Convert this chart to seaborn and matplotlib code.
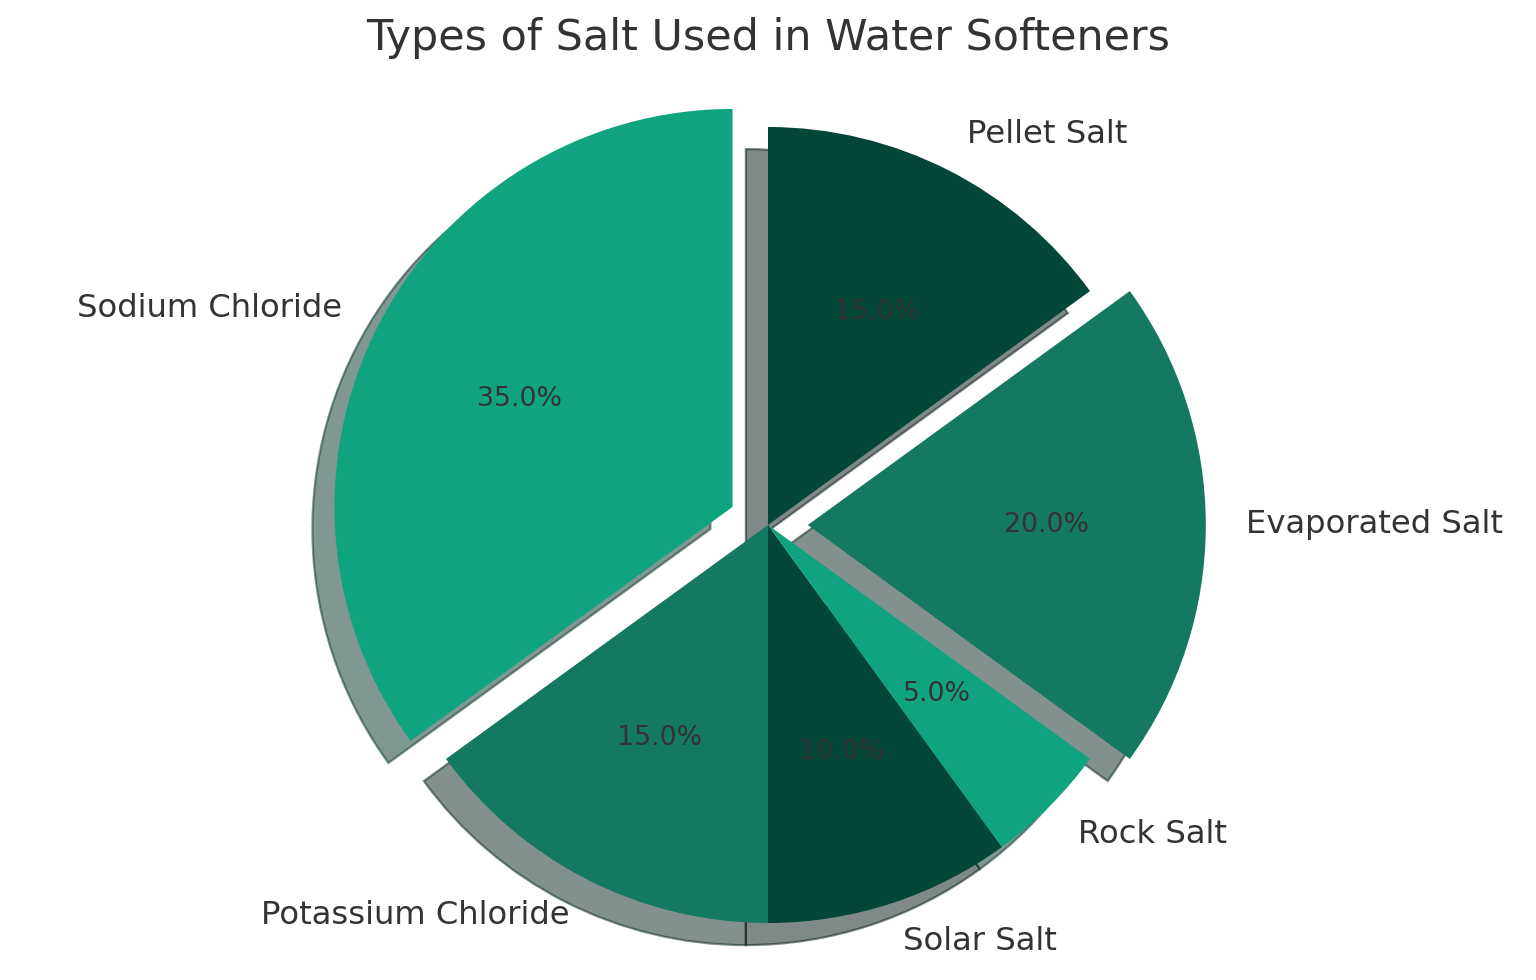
import numpy as np
import seaborn as sns
import matplotlib.pyplot as plt

sns.set_style("white")

# data
salt_types = ["Sodium Chloride", "Potassium Chloride", "Solar Salt",
              "Rock Salt", "Evaporated Salt", "Pellet Salt"]
shares = [35, 15, 10, 5, 20, 15]
explode = [0.1, 0, 0, 0, 0.1, 0]

palette = ["#10A37F", "#147960", "#024737"]
slice_colors = [palette[i % 3] for i in range(len(shares))]
text_color = "#333333"

fig = plt.figure(figsize=(7.68, 4.9), dpi=200)
ax = fig.add_axes([0, 0, 1, 1])

wedges, labels, pcts = ax.pie(shares, labels=salt_types, colors=slice_colors,
                              explode=explode, autopct="%1.1f%%", startangle=90,
                              shadow=True, pctdistance=0.6, labeldistance=1.1,
                              wedgeprops={"edgecolor": "none", "linewidth": 0.8},
                              textprops={"color": text_color, "fontsize": 11.6})
for t in pcts:
    t.set_fontsize(9.65)
    t.set_color(text_color)

# place the pie like the reference (radius ~398px, centre at 768,525)
r_px = 398
ax.set_xlim(-768 / r_px, 768 / r_px)
ax.set_ylim(-455 / r_px, 525 / r_px)
ax.set_aspect("equal")
ax.axis("off")

fig.text(0.5, 0.961, "Types of Salt Used in Water Softeners", ha="center",
         va="center", fontsize=15.45, color=text_color)

plt.savefig("out.png", dpi=200)
